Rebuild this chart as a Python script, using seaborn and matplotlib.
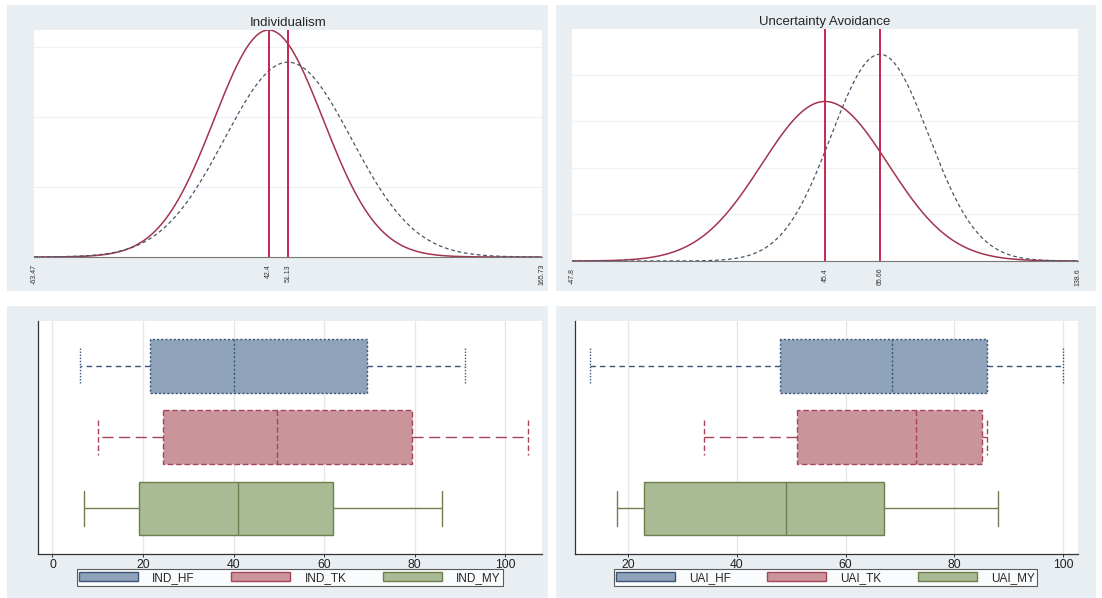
import numpy as np
import pandas as pd
import matplotlib
matplotlib.use("Agg")
import matplotlib.pyplot as plt
import seaborn as sns
from matplotlib.patches import Rectangle, Patch

# ---------------- data ----------------
# Normal density curves (mean, sd) : solid first, dashed second
ind_means = [42.4, 51.13]
ind_sds = [24.59, 28.65]
ind_ticks = [-63.47, 42.4, 51.13, 165.73]
ind_ticklabels = ["-63.47", "42.4", "51.13", "165.73"]

uai_means = [45.4, 65.66]
uai_sds = [23.3, 17.98]
uai_ticks = [-47.8, 45.4, 65.66, 138.6]
uai_ticklabels = ["-47.8", "45.4", "65.66", "138.6"]

# Box plot five-number summaries
ind_groups = ["IND_HF", "IND_TK", "IND_MY"]
ind_min = [6, 10, 7]
ind_q1 = [21.5, 24.5, 19]
ind_med = [40, 49.5, 41]
ind_q3 = [69.5, 79.5, 62]
ind_max = [91, 105, 86]

uai_groups = ["UAI_HF", "UAI_TK", "UAI_MY"]
uai_min = [13, 34, 18]
uai_q1 = [48, 51, 23]
uai_med = [68.5, 73, 49]
uai_q3 = [86, 85, 67]
uai_max = [100, 86, 88]

# ---------------- style ----------------
sns.set_style("white")
plt.rcParams["font.family"] = ["Liberation Sans", "DejaVu Sans"]

PANEL_BG = "#e9eef2"
fills = ["#8ea3ba", "#c9959b", "#a9bb94"]
edges = ["#3b5478", "#a84359", "#6f7e4c"]
box_ls = [(0, (1.5, 1.5)), (0, (4, 2)), "-"]
whisk_ls = [(0, (4, 3)), (0, (8, 4)), "-"]
cap_ls = [(0, (1, 1.2)), (0, (4, 2)), "-"]
BOX_W = 0.75
CAP_W = 0.49

fig = plt.figure(figsize=(11.02, 5.98), dpi=100)
W, H = 1102, 598


def fig_rect(x0, y0, x1, y1):
    return [x0 / W, 1 - y1 / H, (x1 - x0) / W, (y1 - y0) / H]


# panel backgrounds
for (x0, y0, x1, y1) in [(7, 5, 548, 291), (556, 5, 1096, 291),
                         (7, 306, 548, 598), (556, 306, 1096, 598)]:
    b = fig_rect(x0, y0, x1, y1)
    fig.patches.append(Rectangle((b[0], b[1]), b[2], b[3], transform=fig.transFigure,
                                 facecolor=PANEL_BG, edgecolor="none", zorder=-10))


def density_panel(rect, means, sds, ticks, ticklabels, title, ytop=None):
    ax = fig.add_axes(rect)
    ax.set_facecolor("white")
    x = np.linspace(ticks[0], ticks[-1], 600)
    styles = [dict(color="#a3344f", linestyle="-", linewidth=1.1),
              dict(color="#4a5568", linestyle=(0, (3, 2.2)), linewidth=0.9)]
    peaks = []
    for m, s, st in zip(means, sds, styles):
        y = np.exp(-0.5 * ((x - m) / s) ** 2) / (s * np.sqrt(2 * np.pi))
        peaks.append(y.max())
        sns.lineplot(x=x, y=y, ax=ax, **st)
    for m in means:
        ax.axvline(m, color="#c42752", linewidth=1.4, zorder=3)
    ax.set_xlim(ticks[0], ticks[-1])
    top = ytop if ytop is not None else max(peaks)
    ax.set_ylim(0, top)
    ax.set_yticks(np.arange(0.005, top, 0.005))
    ax.set_yticklabels([])
    ax.tick_params(axis="y", length=0)
    ax.grid(axis="y", color="#eef2f5", linewidth=0.9)
    ax.set_xticks(ticks)
    ax.set_xticklabels(ticklabels, rotation=90, fontsize=5.0, color="#333333")
    ax.tick_params(axis="x", length=3, width=0.6, color="#444444", pad=2, direction="out")
    for sp in ["top", "right", "left"]:
        ax.spines[sp].set_visible(False)
    ax.spines["bottom"].set_color("#777777")
    ax.spines["bottom"].set_linewidth(0.8)
    ax.set_xlabel("")
    ax.set_ylabel("")
    ax.set_title(title, fontsize=9.5, pad=3)
    return ax


density_panel(fig_rect(34, 30, 542, 257), ind_means, ind_sds, ind_ticks, ind_ticklabels,
              "Individualism")
density_panel(fig_rect(572, 29, 1078, 261), uai_means, uai_sds, uai_ticks, uai_ticklabels,
              "Uncertainty Avoidance", ytop=0.0249)


def box_panel(rect, groups, mins, q1s, meds, q3s, maxs, xlim, xticks, legend_rect):
    ax = fig.add_axes(rect)
    ax.set_facecolor("white")
    rows = []
    for g, a, b, c, d, e in zip(groups, mins, q1s, meds, q3s, maxs):
        for v in (a, b, c, d, e):
            rows.append((g, v))
    df = pd.DataFrame(rows, columns=["group", "value"])
    for i, g in enumerate(groups):
        sub = df[df["group"] == g]
        sns.boxplot(data=sub, x="value", y="group", order=groups, ax=ax,
                    width=BOX_W, whis=(0, 100), showfliers=False, saturation=1,
                    color=fills[i], linecolor=edges[i], linewidth=1.0,
                    boxprops=dict(linestyle=box_ls[i]),
                    whiskerprops=dict(linestyle=whisk_ls[i]),
                    capprops=dict(linestyle=cap_ls[i]),
                    medianprops=dict(linestyle=box_ls[i], color=edges[i]))
    # widen the caps (vertical short lines) to Stata-like proportion
    for ln in ax.lines:
        xd = np.asarray(ln.get_xdata(), dtype=float)
        yd = np.asarray(ln.get_ydata(), dtype=float)
        if len(xd) == 2 and xd[0] == xd[1] and abs(yd[1] - yd[0]) < BOX_W * 0.9:
            c = yd.mean()
            ln.set_ydata([c - CAP_W / 2, c + CAP_W / 2])
    ax.set_xlim(*xlim)
    ax.set_ylim(2.641, -0.631)
    ax.set_xticks(xticks)
    ax.set_xticklabels([str(t) for t in xticks], fontsize=8.8, color="#222222")
    ax.set_yticks([])
    ax.grid(axis="x", color="#e3e7eb", linewidth=0.9)
    ax.set_axisbelow(True)
    ax.tick_params(axis="x", length=2.5, width=0.7, color="#333333", pad=1, direction="out", bottom=True)
    for sp in ["top", "right"]:
        ax.spines[sp].set_visible(False)
    for sp in ["left", "bottom"]:
        ax.spines[sp].set_color("#333333")
        ax.spines[sp].set_linewidth(0.9)
    ax.set_xlabel("")
    ax.set_ylabel("")
    handles = [Patch(facecolor=fills[i], edgecolor=edges[i], linewidth=1.0) for i in range(3)]
    leg = fig.legend(handles, groups, loc="lower left", bbox_to_anchor=legend_rect,
                     bbox_transform=fig.transFigure, mode="expand", ncol=3,
                     fontsize=8.5, handlelength=5.0, handleheight=0.8, borderpad=0.2,
                     handletextpad=1.2, fancybox=False, frameon=True,
                     borderaxespad=0)
    leg.get_frame().set_edgecolor("#333333")
    leg.get_frame().set_linewidth(0.8)
    leg.get_frame().set_facecolor("white")
    return ax


box_panel(fig_rect(38, 321, 542, 554), ind_groups, ind_min, ind_q1, ind_med, ind_q3, ind_max,
          (-3.2, 108.1), [0, 20, 40, 60, 80, 100], fig_rect(76.5, 571, 503, 586))
box_panel(fig_rect(575, 321, 1078, 554), uai_groups, uai_min, uai_q1, uai_med, uai_q3, uai_max,
          (10.3, 102.7), [20, 40, 60, 80, 100], fig_rect(614, 571, 1037, 586))

fig.savefig("out.png", dpi=100, facecolor="white")
